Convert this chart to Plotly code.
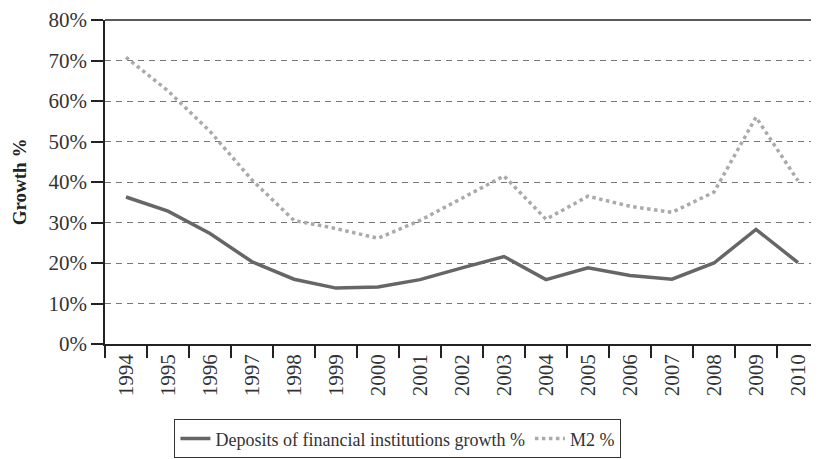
import plotly.graph_objects as go

years = [str(y) for y in range(1994, 2011)]
deposits = [36.3, 32.8, 27.3, 20.3, 16.0, 13.8, 14.1, 15.9, 18.8, 21.6, 15.9, 18.8, 16.9, 16.0, 20.0, 28.3, 20.1]
m2 = [70.8, 62.5, 52.5, 40.5, 30.5, 28.5, 26.1, 30.5, 36.0, 41.5, 30.8, 36.5, 34.0, 32.5, 37.5, 56.0, 40.3]
y_ticks = [0, 10, 20, 30, 40, 50, 60, 70, 80]
y_labels = [f"{v}%" for v in y_ticks]

FONT = "Liberation Serif"

fig = go.Figure()

fig.add_trace(go.Scatter(
    x=years, y=deposits, mode="lines",
    name="Deposits of financial institutions growth %",
    line=dict(color="#666666", width=3.5),
))
fig.add_trace(go.Scatter(
    x=years, y=m2, mode="lines",
    name="M2 %",
    line=dict(color="#aaaaaa", width=3.5, dash="dot"),
))

# trait plein en haut du cadre
fig.add_shape(type="line", xref="paper", x0=0, x1=1, yref="paper", y0=1, y1=1,
              line=dict(color="#222222", width=1.5), layer="above")

# la page garde 8px de marge autour de la figure
fig.update_layout(
    width=811, height=451,
    paper_bgcolor="white", plot_bgcolor="white",
    font=dict(family=FONT, color="#333333", size=18),
    margin=dict(l=97, r=0, t=9, b=115),
    xaxis=dict(
        type="category", tickangle=-90, tickson="boundaries",
        ticks="outside", ticklen=12, tickcolor="#222222", tickwidth=1.5,
        showline=True, linecolor="#222222", linewidth=1.5,
        showgrid=False, tickfont=dict(size=21, color="#333333"),
        range=[-0.5, 16.5], ticklabeloverflow="allow",
    ),
    yaxis=dict(
        range=[0, 80], tickmode="array", tickvals=y_ticks, ticktext=y_labels,
        ticks="outside", ticklen=12, tickcolor="#222222", tickwidth=1.5,
        showline=True, linecolor="#222222", linewidth=1.5,
        showgrid=True, gridcolor="#777777", gridwidth=1.3, griddash="6px,5px",
        zeroline=False, tickfont=dict(size=21, color="#333333"),
        ticklabeloverflow="allow",
        title=dict(text="<b>Growth %</b>", font=dict(size=19, color="#222222"), standoff=17),
    ),
    legend=dict(
        orientation="h", x=0.41, xanchor="center", y=-0.232, yanchor="top",
        bordercolor="#333333", borderwidth=1.2, bgcolor="white",
        font=dict(size=18, color="#333333"), itemwidth=30,
    ),
)

fig.write_html("out.html")
